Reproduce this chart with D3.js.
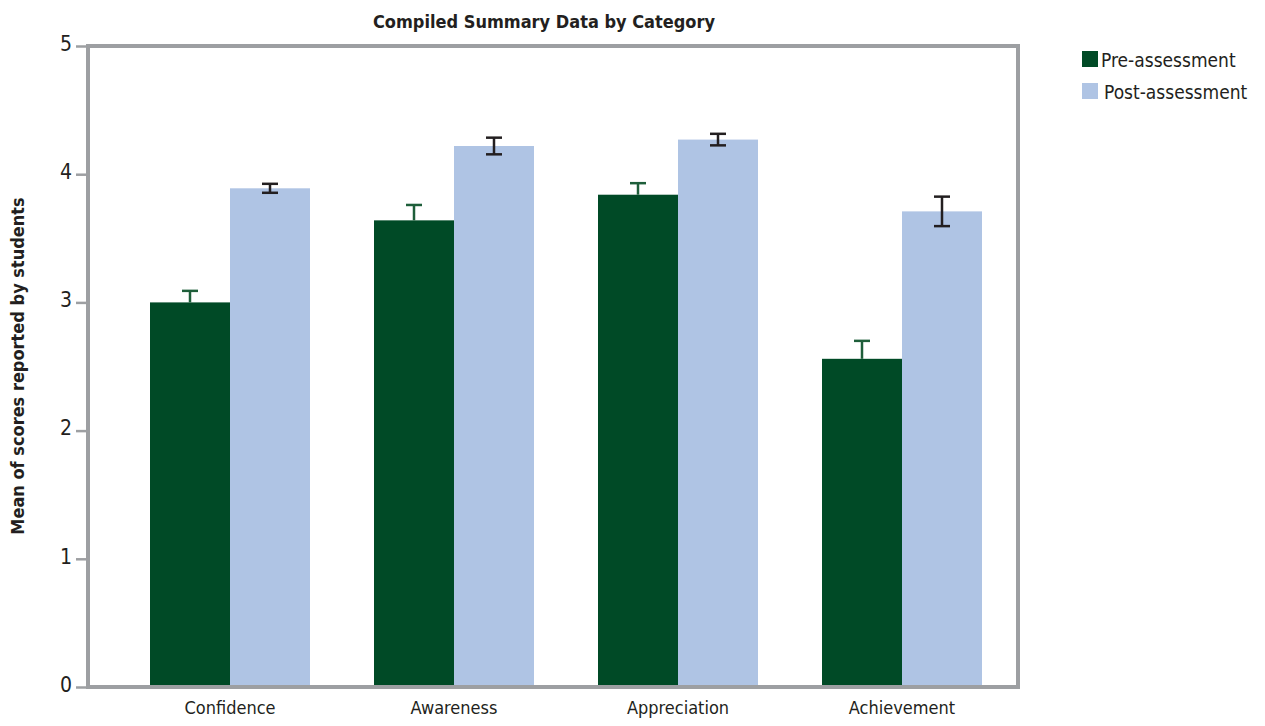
<!DOCTYPE html>
<html>
<head>
<meta charset="utf-8">
<script src="https://cdnjs.cloudflare.com/ajax/libs/d3/7.8.5/d3.min.js"></script>
<style>
  body { margin: 0; background: white; }
  text { font-family: "DejaVu Sans Condensed", "Liberation Sans Narrow", "Roboto", sans-serif; fill: #231f20; }
</style>
</head>
<body>
<div id="chart"></div>
<script>
var categories = ["Confidence", "Awareness", "Appreciation", "Achievement"];
var series = ["Pre-assessment", "Post-assessment"];
var preValues = [3.00, 3.64, 3.84, 2.56];
var preErrors = [0.09, 0.12, 0.09, 0.14];
var postValues = [3.89, 4.22, 4.27, 3.71];
var postErrors = [0.035, 0.065, 0.045, 0.115];
var yTicks = [0, 1, 2, 3, 4, 5];

var colors = { "Pre-assessment": "#004a26", "Post-assessment": "#afc4e4" };
var errColors = { "Pre-assessment": "#1e5e3a", "Post-assessment": "#231f20" };

var width = 1265, height = 726;
var frame = { left: 88, top: 46, right: 1018, bottom: 687 };
var fontStack = "\"DejaVu Sans Condensed\", \"Liberation Sans Narrow\", sans-serif";

var svg = d3.select("#chart").append("svg")
            .attr("width", width)
            .attr("height", height)
            .attr("display", "block");

var y = d3.scaleLinear().domain([0, 5]).range([frame.bottom, frame.top]);
var x0 = d3.scaleBand().domain(categories).range([118, 1014]).paddingInner(0).paddingOuter(0);
var x1 = d3.scaleBand().domain(series).range([x0.bandwidth() / 2 - 80, x0.bandwidth() / 2 + 80]);

// rows for bars
var rows = [];
categories.forEach(function (c, i) {
  rows.push({ cat: c, s: series[0], v: preValues[i], e: preErrors[i] });
  rows.push({ cat: c, s: series[1], v: postValues[i], e: postErrors[i] });
});

// bars
svg.append("g").selectAll("rect")
   .data(rows)
   .enter()
   .append("rect")
   .attr("x", function (d) { return x0(d.cat) + x1(d.s); })
   .attr("y", function (d) { return y(d.v); })
   .attr("width", x1.bandwidth())
   .attr("height", function (d) { return y(0) - y(d.v); })
   .style("fill", function (d) { return colors[d.s]; });

// error bars (pre: upper half only, post: both halves)
var err = svg.append("g").selectAll("g")
             .data(rows)
             .enter()
             .append("g")
             .attr("transform", function (d) { return "translate(" + (x0(d.cat) + x1(d.s) + x1.bandwidth() / 2) + ",0)"; });

err.append("line")
   .attr("x1", 0).attr("x2", 0)
   .attr("y1", function (d) { return d.s === series[0] ? y(d.v) : y(d.v - d.e); })
   .attr("y2", function (d) { return y(d.v + d.e); })
   .style("stroke", function (d) { return errColors[d.s]; })
   .style("stroke-width", 2.5);

err.append("line")
   .attr("x1", -8).attr("x2", 8)
   .attr("y1", function (d) { return y(d.v + d.e); })
   .attr("y2", function (d) { return y(d.v + d.e); })
   .style("stroke", function (d) { return errColors[d.s]; })
   .style("stroke-width", 2.5);

err.filter(function (d) { return d.s === series[1]; })
   .append("line")
   .attr("x1", -8).attr("x2", 8)
   .attr("y1", function (d) { return y(d.v - d.e); })
   .attr("y2", function (d) { return y(d.v - d.e); })
   .style("stroke", function (d) { return errColors[d.s]; })
   .style("stroke-width", 2.5);

// frame
svg.append("rect")
   .attr("x", frame.left)
   .attr("y", frame.top)
   .attr("width", frame.right - frame.left)
   .attr("height", frame.bottom - frame.top)
   .style("fill", "none")
   .style("stroke", "#9d9fa2")
   .style("stroke-width", 4);

// y axis ticks
var yAxis = svg.append("g")
   .attr("transform", "translate(" + frame.left + ",0)")
   .call(d3.axisLeft(y).tickValues(yTicks).tickSize(12).tickFormat(d3.format("d")));
yAxis.select(".domain").remove();
yAxis.selectAll(".tick line").style("stroke", "#9d9fa2").style("stroke-width", 2.5);
yAxis.selectAll(".tick text")
     .attr("x", -16)
     .attr("dy", "0.2em")
     .style("font-size", "21px")
     .style("font-family", fontStack)
     .style("fill", "#231f20");

// x axis labels
var xAxis = svg.append("g")
   .attr("transform", "translate(0," + (frame.bottom + 2) + ")")
   .call(d3.axisBottom(x0).tickSize(0).tickPadding(12));
xAxis.select(".domain").remove();
xAxis.selectAll(".tick text")
     .style("font-size", "18px")
     .style("font-family", fontStack)
     .style("fill", "#231f20");

// title
svg.append("text")
   .attr("x", 544)
   .attr("y", 28)
   .attr("text-anchor", "middle")
   .style("font-size", "18px")
   .style("font-weight", "bold")
   .text("Compiled Summary Data by Category");

// y axis title
svg.append("text")
   .attr("transform", "translate(24,366) rotate(-90)")
   .attr("text-anchor", "middle")
   .style("font-size", "18px")
   .style("font-weight", "bold")
   .text("Mean of scores reported by students");

// legend
var legend = svg.append("g").selectAll("g")
   .data(series)
   .enter()
   .append("g")
   .attr("transform", function (d, i) { return "translate(1082," + (51 + i * 32) + ")"; });

legend.append("rect")
   .attr("width", 16).attr("height", 16)
   .style("fill", function (d) { return colors[d]; });

legend.append("text")
   .attr("x", function (d, i) { return i === 0 ? 19 : 22; })
   .attr("y", 16)
   .style("font-size", "19px")
   .text(function (d) { return d; });
</script>
</body>
</html>
